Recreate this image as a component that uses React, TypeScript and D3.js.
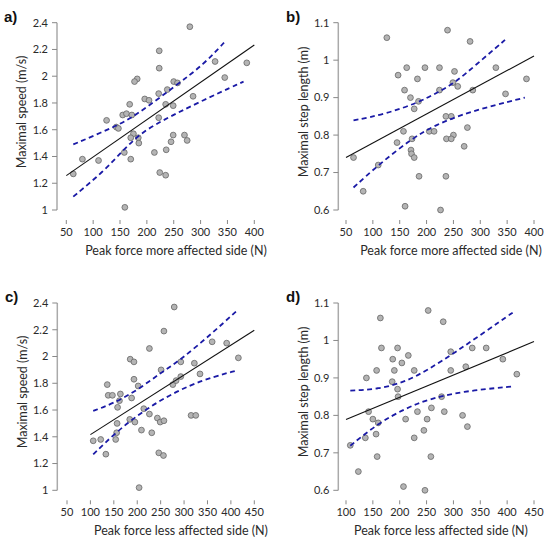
import React from "react";
import * as d3 from "d3";

// ---------- DATA ----------
// a) Peak force more affected side vs maximal speed
const aX = [280, 223, 223, 327, 386, 345, 182, 177, 250, 257, 238, 222, 286, 196, 204, 168, 235, 249, 155, 162, 172, 125, 222, 143, 147, 175, 170, 184, 185, 249, 270, 245, 275, 158, 214, 236, 170, 80, 110, 63, 224, 235, 159];
const aY = [2.37, 2.19, 2.06, 2.11, 2.10, 1.99, 1.98, 1.96, 1.96, 1.95, 1.90, 1.87, 1.85, 1.83, 1.82, 1.79, 1.79, 1.78, 1.71, 1.72, 1.71, 1.67, 1.69, 1.62, 1.61, 1.57, 1.54, 1.54, 1.50, 1.56, 1.56, 1.51, 1.52, 1.43, 1.43, 1.45, 1.38, 1.38, 1.37, 1.27, 1.28, 1.26, 1.02];
const aFit = [[50, 1.257], [400, 2.233]];
const aUpper = [[63, 1.49], [141, 1.623], [181, 1.71], [255, 1.934], [305, 2.084], [348, 2.27]];
const aLower = [[63, 1.10], [119, 1.286], [156, 1.448], [187, 1.568], [224, 1.66], [299, 1.81], [380, 1.96]];

// b) Peak force more affected side vs maximal step length
const bX = [126, 239, 281, 163, 197, 224, 329, 147, 252, 183, 386, 249, 258, 159, 224, 286, 347, 170, 185, 177, 236, 246, 276, 157, 205, 214, 250, 145, 173, 237, 246, 270, 171, 172, 177, 64, 110, 186, 236, 82, 160, 226];
const bY = [1.06, 1.08, 1.05, 0.98, 0.98, 0.98, 0.98, 0.96, 0.97, 0.95, 0.95, 0.94, 0.93, 0.92, 0.92, 0.92, 0.91, 0.90, 0.89, 0.87, 0.85, 0.85, 0.82, 0.81, 0.81, 0.81, 0.80, 0.78, 0.79, 0.79, 0.79, 0.77, 0.76, 0.75, 0.74, 0.74, 0.72, 0.69, 0.69, 0.65, 0.61, 0.60];
const bFit = [[50, 0.74], [400, 1.011]];
const bUpper = [[64, 0.839], [123, 0.856], [185, 0.887], [222, 0.915], [253, 0.94], [290, 0.985], [346, 1.054]];
const bLower = [[64, 0.66], [110, 0.72], [172, 0.79], [216, 0.827], [278, 0.862], [383, 0.90]];

// c) Peak force less affected side vs maximal speed
const cX = [279, 257, 226, 360, 391, 416, 185, 193, 293, 322, 251, 334, 293, 193, 202, 136, 276, 283, 138, 147, 164, 188, 162, 158, 214, 226, 184, 157, 195, 243, 249, 257, 315, 325, 209, 231, 156, 154, 106, 122, 133, 246, 256, 204];
const cY = [2.37, 2.19, 2.06, 2.11, 2.10, 1.99, 1.98, 1.96, 1.96, 1.95, 1.90, 1.87, 1.85, 1.83, 1.78, 1.79, 1.79, 1.82, 1.71, 1.71, 1.72, 1.69, 1.67, 1.62, 1.61, 1.57, 1.53, 1.50, 1.51, 1.54, 1.51, 1.52, 1.56, 1.56, 1.45, 1.43, 1.43, 1.38, 1.37, 1.38, 1.27, 1.28, 1.26, 1.02];
const cFit = [[100, 1.416], [450, 2.196]];
const cUpper = [[106, 1.593], [149, 1.65], [199, 1.745], [249, 1.875], [291, 1.97], [362, 2.18], [412, 2.34]];
const cLower = [[106, 1.269], [156, 1.438], [206, 1.575], [256, 1.687], [313, 1.787], [363, 1.849], [409, 1.892]];

// d) Peak force less affected side vs maximal step length
const dX = [253, 164, 281, 166, 196, 335, 361, 295, 216, 187, 392, 204, 418, 157, 190, 227, 295, 323, 138, 186, 196, 197, 278, 142, 233, 283, 259, 317, 150, 211, 251, 160, 326, 156, 245, 136, 227, 108, 158, 258, 123, 207, 247];
const dY = [1.08, 1.06, 1.05, 0.98, 0.98, 0.98, 0.98, 0.97, 0.96, 0.95, 0.95, 0.94, 0.91, 0.92, 0.92, 0.92, 0.92, 0.93, 0.90, 0.89, 0.87, 0.85, 0.85, 0.81, 0.81, 0.81, 0.82, 0.80, 0.79, 0.79, 0.79, 0.78, 0.77, 0.75, 0.76, 0.74, 0.74, 0.72, 0.69, 0.69, 0.65, 0.61, 0.60];
const dFit = [[100, 0.789], [450, 0.997]];
const dUpper = [[108, 0.866], [160, 0.87], [210, 0.889], [253, 0.922], [303, 0.968], [359, 1.023], [415, 1.079]];
const dLower = [[108, 0.719], [160, 0.779], [210, 0.818], [253, 0.843], [315, 0.864], [408, 0.877]];

// tick labels
const speedTicks = [1, 1.2, 1.4, 1.6, 1.8, 2, 2.2, 2.4];
const stepTicks = [0.6, 0.7, 0.8, 0.9, 1, 1.1];
const forceTicksMore = [50, 100, 150, 200, 250, 300, 350, 400];
const forceTicksLessC = [50, 100, 150, 200, 250, 300, 350, 400, 450];
const forceTicksLessD = [100, 150, 200, 250, 300, 350, 400, 450];

const xTitleMore = "Peak force more affected side (N)";
const xTitleLess = "Peak force less affected side (N)";
const yTitleSpeed = "Maximal speed (m/s)";
const yTitleStep = "Maximal step length (m)";

type Pt = number[];

interface PanelProps {
  label: string;
  xs: number[];
  ys: number[];
  fit: Pt[];
  upper: Pt[];
  lower: Pt[];
  xTicks: number[];
  yTicks: number[];
  xTitle: string;
  yTitle: string;
  xDomain: [number, number];
  xRange: [number, number];
  yDomain: [number, number];
  yRange: [number, number];
  axisX: number;
  xTitleX: number;
  offsetY: number;
  labelX: number;
}

const FONT = "Lato, 'DejaVu Sans', sans-serif";

function Panel(p: PanelProps) {
  const x = d3.scaleLinear().domain(p.xDomain).range(p.xRange);
  const y = d3.scaleLinear().domain(p.yDomain).range(p.yRange);
  const line = d3
    .line<Pt>()
    .x((d) => x(d[0]))
    .y((d) => y(d[1]));
  const curve = d3
    .line<Pt>()
    .x((d) => x(d[0]))
    .y((d) => y(d[1]))
    .curve(d3.curveBasis);
  const yBottom = p.yRange[0];
  const tickTop = yBottom + 10;
  const fmt = (v: number) => String(v);
  return (
    <g>
      <text x={p.labelX} y={p.offsetY + 22} fontFamily="'Liberation Sans', Arial, sans-serif" fontWeight="bold" fontSize={15} fill="#111">
        {p.label}
      </text>
      {/* y axis */}
      <line x1={p.axisX} x2={p.axisX} y1={y(p.yDomain[1])} y2={y(p.yDomain[0])} stroke="#aaa" strokeWidth={1.5} />
      {p.yTicks.map((t) => (
        <g key={"y" + t}>
          <line x1={p.axisX - 5} x2={p.axisX} y1={y(t)} y2={y(t)} stroke="#888" strokeWidth={1} />
          <text x={p.axisX - 9} y={y(t)} dy="0.35em" textAnchor="end" fontFamily={FONT} fontSize={11} fill="#2a2a2a">
            {fmt(t)}
          </text>
        </g>
      ))}
      {/* x ticks */}
      {p.xTicks.map((t) => (
        <g key={"x" + t}>
          <line x1={x(t)} x2={x(t)} y1={tickTop} y2={tickTop + 4} stroke="#888" strokeWidth={1} />
          <text x={x(t)} y={tickTop + 16} textAnchor="middle" fontFamily={FONT} fontSize={11} fill="#2a2a2a">
            {fmt(t)}
          </text>
        </g>
      ))}
      <text x={p.xTitleX} y={p.offsetY + 255} textAnchor="middle" fontFamily={FONT} fontSize={12.5} fill="#2a2a2a">
        {p.xTitle}
      </text>
      <text
        transform={`translate(${p.axisX - 35},${p.offsetY + 112}) rotate(-90)`}
        textAnchor="middle"
        dy="0.35em"
        fontFamily={FONT}
        fontSize={12.5}
        fill="#2a2a2a"
      >
        {p.yTitle}
      </text>
      {/* points */}
      {p.xs.map((xv, i) => (
        <circle key={i} cx={x(xv)} cy={y(p.ys[i])} r={2.9} fill="#b4b4b4" stroke="#666" strokeWidth={0.8} />
      ))}
      {/* fit */}
      <path d={line(p.fit) || ""} fill="none" stroke="#111" strokeWidth={1.1} />
      <path d={curve(p.upper) || ""} fill="none" stroke="#1a1aa6" strokeWidth={1.8} strokeDasharray="5,3.5" />
      <path d={curve(p.lower) || ""} fill="none" stroke="#1a1aa6" strokeWidth={1.8} strokeDasharray="5,3.5" />
    </g>
  );
}

export default function App() {
  return (
    <svg
      width={550}
      height={541}
      viewBox="0 0 550 541"
      style={{ position: "absolute", left: 0, top: 0, background: "#fff" }}
    >
      <rect width={550} height={541} fill="#fff" />
      <Panel
        label="a)"
        xs={aX}
        ys={aY}
        fit={aFit}
        upper={aUpper}
        lower={aLower}
        xTicks={forceTicksMore}
        yTicks={speedTicks}
        xTitle={xTitleMore}
        yTitle={yTitleSpeed}
        xDomain={[50, 400]}
        xRange={[66.3, 254.3]}
        yDomain={[1, 2.4]}
        yRange={[210, 22.7]}
        axisX={57}
        xTitleX={176}
        offsetY={0}
        labelX={4}
      />
      <Panel
        label="b)"
        xs={bX}
        ys={bY}
        fit={bFit}
        upper={bUpper}
        lower={bLower}
        xTicks={forceTicksMore}
        yTicks={stepTicks}
        xTitle={xTitleMore}
        yTitle={yTitleStep}
        xDomain={[50, 400]}
        xRange={[346, 534]}
        yDomain={[0.6, 1.1]}
        yRange={[210, 22.7]}
        axisX={338.3}
        xTitleX={451}
        offsetY={0}
        labelX={286}
      />
      <Panel
        label="c)"
        xs={cX}
        ys={cY}
        fit={cFit}
        upper={cUpper}
        lower={cLower}
        xTicks={forceTicksLessC}
        yTicks={speedTicks}
        xTitle={xTitleLess}
        yTitle={yTitleSpeed}
        xDomain={[50, 450]}
        xRange={[67, 254.3]}
        yDomain={[1, 2.4]}
        yRange={[490.3, 303]}
        axisX={57.3}
        xTitleX={181}
        offsetY={280}
        labelX={5}
      />
      <Panel
        label="d)"
        xs={dX}
        ys={dY}
        fit={dFit}
        upper={dUpper}
        lower={dLower}
        xTicks={forceTicksLessD}
        yTicks={stepTicks}
        xTitle={xTitleLess}
        yTitle={yTitleStep}
        xDomain={[100, 450]}
        xRange={[346, 534]}
        yDomain={[0.6, 1.1]}
        yRange={[490.3, 303]}
        axisX={338.3}
        xTitleX={441}
        offsetY={280}
        labelX={286}
      />
    </svg>
  );
}
